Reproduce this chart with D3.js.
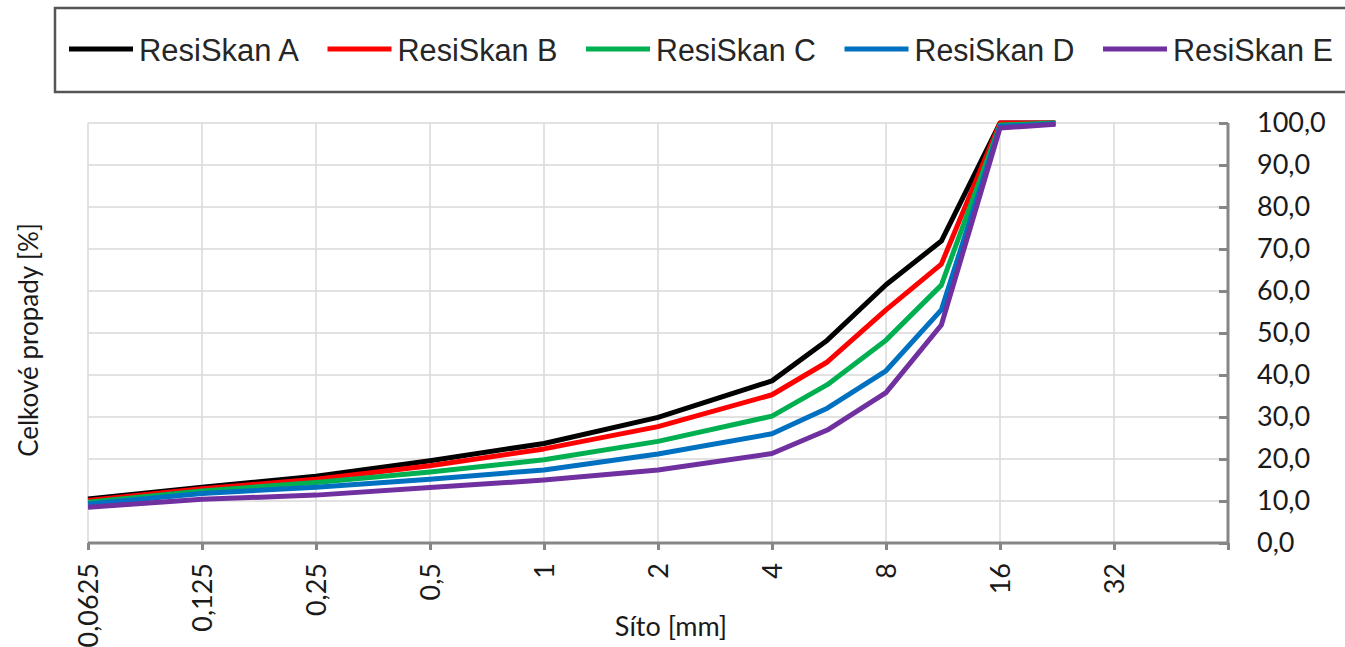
<!DOCTYPE html>
<html>
<head>
<meta charset="utf-8">
<script src="https://cdn.jsdelivr.net/npm/d3@7"></script>
<style>
  body { margin: 0; background: #fff; }
  svg { display: block; }
</style>
</head>
<body>
<svg id="chart"></svg>
<script>
// sieve sizes [mm]
const SIEVES = [0.0625, 0.125, 0.25, 0.5, 1, 2, 4, 5.6, 8, 11.2, 16, 22.4];
const X_TICKS = [0.0625, 0.125, 0.25, 0.5, 1, 2, 4, 8, 16, 32, 64];
const X_LABELS = ['0,0625', '0,125', '0,25', '0,5', '1', '2', '4', '8', '16', '32'];
const Y_TICKS = [0, 10, 20, 30, 40, 50, 60, 70, 80, 90, 100];

// passing [%]
const RESI_A = [10.5, 13.3, 15.9, 19.6, 23.7, 29.9, 38.6, 48.3, 61.5, 71.9, 100, 100];
const RESI_B = [10.1, 12.9, 15.2, 18.4, 22.4, 27.7, 35.3, 43.1, 55.5, 66.4, 100, 100];
const RESI_C = [9.7, 12.4, 14.4, 16.9, 19.8, 24.2, 30.2, 37.7, 48.3, 61.4, 99.5, 100];
const RESI_D = [9.3, 11.8, 13.3, 15.2, 17.4, 21.2, 26.0, 32.1, 41.0, 55.5, 99.2, 99.8];
const RESI_E = [8.5, 10.4, 11.4, 13.2, 15.0, 17.4, 21.3, 26.9, 35.8, 51.9, 98.8, 99.7];

const SERIES_NAMES = ['ResiSkan A', 'ResiSkan B', 'ResiSkan C', 'ResiSkan D', 'ResiSkan E'];
const SERIES_VALUES = [RESI_A, RESI_B, RESI_C, RESI_D, RESI_E];
const COLORS = ['#000000', '#ff0000', '#00b050', '#0070c0', '#7030a0'];

const width = 1345, height = 647;
const plot = {left: 88, right: 1228, top: 123, bottom: 543};

const svg = d3.select('#chart')
  .attr('width', width)
  .attr('height', height);

const x = d3.scaleLog().base(2)
  .domain([0.0625, 64])
  .range([plot.left, plot.right]);
const y = d3.scaleLinear()
  .domain([0, 100])
  .range([plot.bottom, plot.top]);

const gridColor = '#d9d9d9';
const axisColor = '#868686';
const labelFont = 'Lato, "Open Sans", sans-serif';

// gridlines
svg.append('g')
  .selectAll('line')
  .data(X_TICKS.slice(0, -1)).enter()
  .append('line')
    .attr('x1', d => x(d)).attr('x2', d => x(d))
    .attr('y1', plot.top).attr('y2', plot.bottom)
    .attr('stroke', gridColor)
    .attr('stroke-width', 1.5);

svg.append('g')
  .selectAll('line')
  .data(Y_TICKS.slice(1)).enter()
  .append('line')
    .attr('x1', plot.left).attr('x2', plot.right)
    .attr('y1', d => y(d)).attr('y2', d => y(d))
    .attr('stroke', gridColor)
    .attr('stroke-width', 1.5);

// x axis
const xAxis = svg.append('g')
  .attr('transform', `translate(0, ${plot.bottom})`)
  .call(d3.axisBottom(x)
    .tickValues(X_TICKS)
    .tickSize(7)
    .tickFormat((d, i) => X_LABELS[i] || ''));

xAxis.select('.domain')
  .attr('d', `M${plot.left},0H${plot.right}`)
  .attr('stroke', axisColor)
  .attr('stroke-width', 3);
xAxis.selectAll('.tick line')
  .attr('stroke', axisColor)
  .attr('stroke-width', 3);
xAxis.selectAll('.tick text')
  .attr('fill', '#1a1a1a')
  .attr('font-family', labelFont)
  .attr('font-size', 27)
  .attr('text-anchor', 'end')
  .attr('dy', '0.35em')
  .attr('transform', 'translate(0, 20) rotate(-90)')
  .attr('x', 0)
  .attr('y', 0);

// right y axis
const yAxis = svg.append('g')
  .attr('transform', `translate(${plot.right}, 0)`)
  .call(d3.axisRight(y)
    .tickValues(Y_TICKS)
    .tickSize(-9)
    .tickFormat(d => d3.format('.1f')(d).replace('.', ',')));

yAxis.select('.domain')
  .attr('d', `M0,${plot.top}V${plot.bottom}`)
  .attr('stroke', axisColor)
  .attr('stroke-width', 3);
yAxis.selectAll('.tick line')
  .attr('stroke', axisColor)
  .attr('stroke-width', 3);
yAxis.selectAll('.tick text')
  .attr('fill', '#1a1a1a')
  .attr('font-family', labelFont)
  .attr('font-size', 27)
  .attr('text-anchor', 'start')
  .attr('x', 29);

// axis titles
svg.append('text')
  .text('Síto [mm]')
  .attr('x', 671)
  .attr('y', 636)
  .attr('text-anchor', 'middle')
  .attr('fill', '#1a1a1a')
  .attr('font-family', labelFont)
  .attr('font-size', 27);

svg.append('text')
  .text('Celkové propady [%]')
  .attr('transform', 'translate(38, 340) rotate(-90)')
  .attr('text-anchor', 'middle')
  .attr('fill', '#1a1a1a')
  .attr('font-family', labelFont)
  .attr('font-size', 26);

// series lines
const line = d3.line()
  .x((d, i) => x(SIEVES[i]))
  .y(d => y(d));

svg.append('g')
  .selectAll('path')
  .data(SERIES_VALUES).enter()
  .append('path')
    .attr('fill', 'none')
    .attr('stroke', (d, i) => COLORS[i])
    .attr('stroke-width', 5)
    .attr('stroke-linejoin', 'round')
    .attr('d', line);

// legend
svg.append('rect')
  .attr('x', 55)
  .attr('y', 8)
  .attr('width', 1300)
  .attr('height', 84)
  .attr('fill', 'none')
  .attr('stroke', '#555')
  .attr('stroke-width', 2.5);

const legend = svg.append('g')
  .selectAll('g')
  .data(SERIES_NAMES).enter()
  .append('g')
    .attr('transform', (d, i) => `translate(${69 + i * 258.5}, 49)`);

legend.append('line')
  .attr('x1', 0).attr('x2', 64)
  .attr('stroke', (d, i) => COLORS[i])
  .attr('stroke-width', 5);

legend.append('text')
  .text(d => d)
  .attr('x', 70)
  .attr('y', 12)
  .attr('fill', '#262626')
  .attr('font-family', '"Liberation Sans", Arial, sans-serif')
  .attr('font-size', 31)
  .attr('textLength', 160)
  .attr('lengthAdjust', 'spacingAndGlyphs');
</script>
</body>
</html>
